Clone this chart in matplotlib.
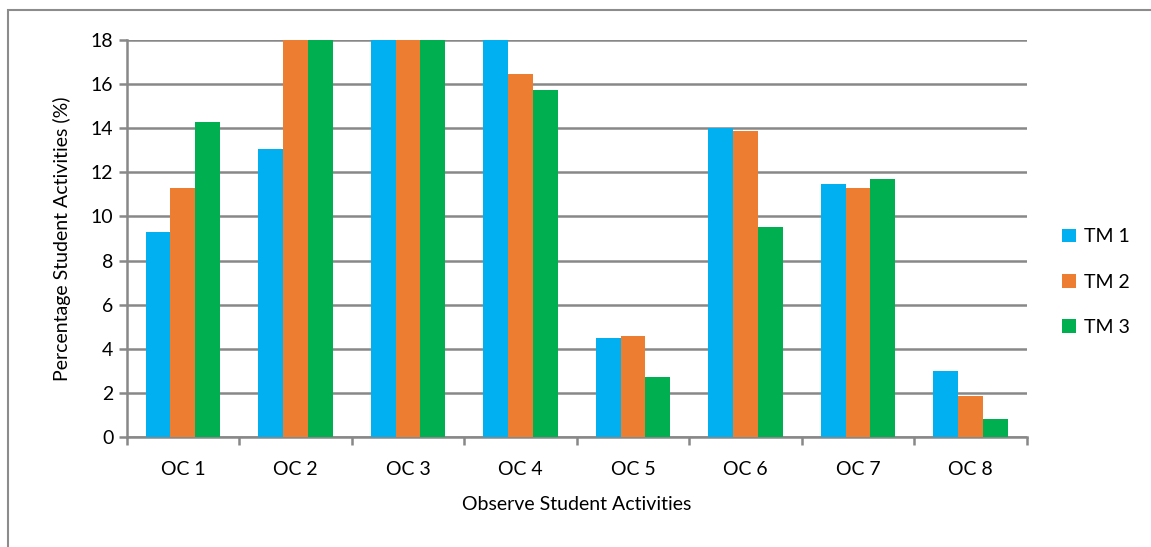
import matplotlib.pyplot as plt
import numpy as np
from matplotlib.patches import Rectangle

plt.rcParams['font.family'] = ['Lato', 'DejaVu Sans']

# Data (bars above 18 are clipped in the original)
categories = ["OC 1", "OC 2", "OC 3", "OC 4", "OC 5", "OC 6", "OC 7", "OC 8"]
tm1 = [9.3, 13.05, 21.0, 19.5, 4.5, 14.0, 11.45, 3.0]
tm2 = [11.3, 19.8, 22.0, 16.45, 4.6, 13.85, 11.3, 1.85]
tm3 = [14.3, 20.5, 22.5, 15.75, 2.7, 9.5, 11.7, 0.8]
series_names = ["TM 1", "TM 2", "TM 3"]
colors = ['#00b0f0', '#ed7d31', '#00b050']

fig = plt.figure(figsize=(11.51, 5.47), dpi=100)
ax = fig.add_axes([0.110, 0.201, 0.782, 0.726])

# outer chart frame
fig.patches.append(Rectangle((8 / 1151, -0.05), 1.2, 1 - 10 / 547 + 0.05,
                             transform=fig.transFigure, fill=False,
                             edgecolor='#8c8c8c', linewidth=1.5))

x = np.arange(len(categories))
width = 0.22
for i, (vals, name, c) in enumerate(zip([tm1, tm2, tm3], series_names, colors)):
    ax.bar(x + (i - 1) * width, vals, width, label=name, color=c, zorder=3)

ax.set_ylim(0, 18)
ax.set_xlim(-0.5, len(categories) - 0.5)
ax.set_yticks(np.arange(0, 19, 2))
ax.tick_params(axis='y', labelsize=14, color='#888888', width=1.8, length=6,
               labelcolor='#000000')
ax.yaxis.grid(True, color='#888888', linewidth=1.8, zorder=0)

# category labels at centres, tick marks at boundaries
ax.set_xticks(np.arange(-0.5, len(categories)), minor=False)
ax.set_xticklabels([])
ax.set_xticks(x, minor=True)
ax.set_xticklabels(categories, minor=True, fontsize=14)
ax.tick_params(axis='x', which='major', color='#888888', width=1.8, length=6)
ax.tick_params(axis='x', which='minor', length=0, pad=17)

for s in ['top', 'right']:
    ax.spines[s].set_visible(False)
for s in ['left', 'bottom']:
    ax.spines[s].set_color('#888888')
    ax.spines[s].set_linewidth(1.8)

ax.set_xlabel("Observe Student Activities", fontsize=14, labelpad=13)
ax.set_ylabel("Percentage Student Activities (%)", fontsize=14, labelpad=14)

ax.legend(loc='center left', bbox_to_anchor=(1.02, 0.39), frameon=False,
          fontsize=14, handlelength=0.7, handleheight=0.7, handletextpad=0.4,
          labelspacing=1.45)

plt.savefig("out.png")
